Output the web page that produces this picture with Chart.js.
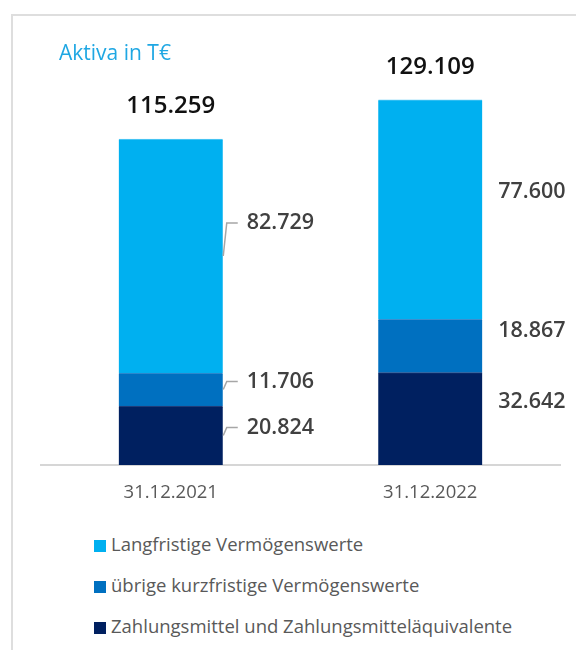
<!DOCTYPE html>
<html lang="de">
<head>
<meta charset="utf-8">
<title>Aktiva in T€</title>
<script src="https://cdn.jsdelivr.net/npm/chart.js@4.4.1/dist/chart.umd.min.js"></script>
<style>
  html, body { margin: 0; padding: 0; background: #fff; }
  body { width: 576px; height: 650px; position: relative; overflow: hidden; font-family: "Open Sans", "Noto Sans", sans-serif; }
  .frame { position: absolute; left: 11px; top: 14px; width: 620px; height: 700px; border-top: 2px solid #dedede; border-left: 2px solid #dedede; }
  .title { position: absolute; left: 59px; top: 39px; font-size: 21px; line-height: 26px; color: #1fa7e3; }
  .chart-wrap { position: absolute; left: 0; top: 0; width: 576px; height: 520px; }
  .legend { position: absolute; left: 94px; top: 531px; margin: 0; padding: 0; list-style: none; }
  .legend li { height: 41px; line-height: 26px; font-size: 18.5px; color: #595959; white-space: nowrap; }
  .legend .sw { display: inline-block; width: 12px; height: 12px; margin-right: 5px; vertical-align: -1px; }
</style>
</head>
<body>
<div class="frame"></div>
<div class="chart-wrap"><canvas id="chart"></canvas></div>
<div class="title">Aktiva in T€</div>
<ul class="legend" id="legend"></ul>

<script>
(function(){
  'use strict';

  // data (T€)
  var categories = ['31.12.2021', '31.12.2022'];
  var seriesNames = ['Zahlungsmittel und Zahlungsmitteläquivalente', 'übrige kurzfristige Vermögenswerte', 'Langfristige Vermögenswerte'];
  var cashValues = [20824, 32642];
  var otherCurrentValues = [11706, 18867];
  var longTermValues = [82729, 77600];
  var totals = [115259, 129109];
  var yTicks = { min: 0, max: 140000 };

  // styles
  var colors = ['#002060', '#0070c0', '#00b0f0'];
  var edgeColors = ['#2a4580', '#3a8fd0', '#5ccbf5'];
  // vertical label shift from segment middle, per category, per dataset
  var labelShift = [[-8, -8, -33], [-17, -15, -18]];
  var useLeader = [true, false];

  function fmt(v){ return new Intl.NumberFormat('de-DE').format(v); }

  var valueLabels = {
    id: 'valueLabels',
    afterDatasetsDraw: function(chart){
      var ctx = chart.ctx;
      ctx.save();
      var n = chart.data.datasets.length;
      chart.data.labels.forEach(function(cat, i){
        for (var d = 0; d < n; d++){
          var bar = chart.getDatasetMeta(d).data[i];
          var right = bar.x + bar.width / 2;
          var mid = (bar.y + bar.base) / 2;
          var ly = mid + labelShift[i][d];
          var tx;
          if (useLeader[i]){
            ctx.strokeStyle = '#a6a6a6';
            ctx.lineWidth = 1.5;
            ctx.beginPath();
            ctx.moveTo(right + 0.5, mid);
            ctx.lineTo(right + 4, ly);
            ctx.lineTo(right + 15, ly);
            ctx.stroke();
            tx = right + 24;
          } else {
            tx = right + 16;
          }
          ctx.fillStyle = '#404040';
          ctx.font = '600 21.5px "Open Sans"';
          ctx.textAlign = 'left';
          ctx.textBaseline = 'middle';
          ctx.fillText(fmt(chart.data.datasets[d].data[i]), tx, ly);
        }
        var top = chart.getDatasetMeta(n - 1).data[i];
        ctx.fillStyle = '#111';
        ctx.font = '600 24px "Open Sans"';
        ctx.textAlign = 'center';
        ctx.textBaseline = 'middle';
        ctx.fillText(fmt(totals[i]), top.x, top.y - 33);
      });
      ctx.restore();
    }
  };

  var valueSets = [cashValues, otherCurrentValues, longTermValues];
  var datasets = valueSets.map(function(vals, k){
    return {
      label: seriesNames[k],
      data: vals,
      backgroundColor: colors[k],
      borderColor: edgeColors[k],
      borderWidth: { top: 1, left: 0, right: 0, bottom: 0 },
      borderSkipped: false,
      barThickness: 104
    };
  });

  new Chart(document.getElementById('chart'), {
    type: 'bar',
    data: { labels: categories, datasets: datasets },
    options: {
      responsive: true,
      maintainAspectRatio: false,
      animation: false,
      layout: { padding: { top: 69, left: 41, right: 16, bottom: 10 } },
      plugins: { legend: { display: false }, tooltip: { enabled: false } },
      scales: {
        x: {
          stacked: true,
          grid: { display: false, drawTicks: false },
          border: { display: true, color: '#d6d6d6', width: 2 },
          ticks: { color: '#595959', padding: 17, font: { family: 'Open Sans', size: 18.5 } },
          afterFit: function(scale){ scale.height = 45; }
        },
        y: {
          stacked: true,
          display: false,
          min: yTicks.min,
          max: yTicks.max
        }
      }
    },
    plugins: [valueLabels]
  });

  // legend, top to bottom as in the original
  var legend = document.getElementById('legend');
  [2, 1, 0].forEach(function(k){
    var li = document.createElement('li');
    li.innerHTML = '<span class="sw" style="background:' + colors[k] + '"></span>' + seriesNames[k];
    legend.appendChild(li);
  });
})();
</script>
</body>
</html>
